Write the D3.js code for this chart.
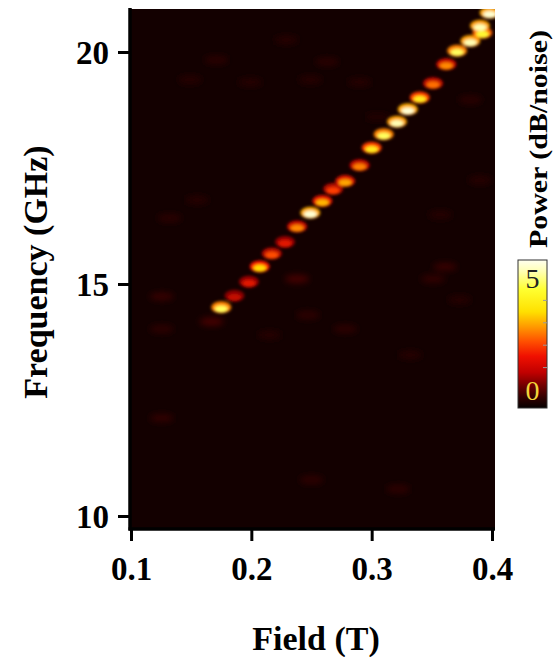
<!DOCTYPE html>
<html><head><meta charset="utf-8">
<script src="https://cdn.jsdelivr.net/npm/d3@7/dist/d3.min.js"></script>
<style>
html,body{margin:0;padding:0;background:#fff;}
svg{display:block;}
</style></head>
<body>
<svg id="chart" width="555" height="657"></svg>
<script>
// ---- data ----
const resField = [0.175,0.186,0.198,0.207,0.217,0.228,0.238,0.249,0.259,0.268,0.278,0.290,0.300,0.310,0.321,0.330,0.340,0.351,0.362,0.371,0.382,0.392,0.390,0.398];
const resFreq  = [14.48,14.73,15.03,15.36,15.64,15.89,16.22,16.52,16.77,17.03,17.20,17.54,17.92,18.21,18.48,18.75,19.00,19.31,19.72,20.01,20.22,20.40,20.55,20.83];
const resPower = [4.8,1.4,1.7,3.6,2.3,1.7,2.7,5.6,3.2,2.2,3.0,2.6,4.0,4.8,5.4,5.6,4.0,2.5,2.7,4.8,5.4,4.4,5.4,5.6];

const noiseField = [0.1255,0.1255,0.167,0.238,0.247,0.278,0.351,0.361,0.1255,0.250,0.322,0.132,0.155,0.171,0.263,0.229,0.149,0.199,0.249,0.290,0.382,0.390,0.357,0.373,0.332,0.215,0.305];
const noiseFreq  = [14.73,14.03,14.19,15.11,14.33,14.03,15.11,15.37,12.11,10.78,10.58,16.42,16.81,19.83,19.79,20.26,19.40,19.35,19.40,19.35,18.97,17.24,16.49,14.66,13.47,13.90,18.60];
const noisePower = [0.25,0.18,0.35,0.35,0.18,0.18,0.2,0.25,0.2,0.18,0.18,0.15,0.12,0.15,0.15,0.12,0.12,0.12,0.12,0.12,0.15,0.12,0.12,0.12,0.12,0.12,0.1];

const xTicks = [0.1,0.2,0.3,0.4];
const yTicks = [10,15,20];
const cbTicks = [0,5];
const cbTickColors = ["#f2d43a","#222222"];

// colour map for the heat map (value -> colour)
const cmapDomain = [0,0.8,2.0,2.6,3.6,4.6,5.8];
const cmapRange  = ["#130000","#8a0000","#ff1a00","#ff8000","#ffdc00","#ffff40","#fffff0"];
// colour bar stops (offset from bottom -> colour)
const cbOffsets = [0,0.07,0.15,0.24,0.35,0.45,0.55,0.65,0.8,0.92,1];
const cbColors  = ["#050000","#300000","#700000","#c00000","#f01000","#ff5000","#ff9a00","#ffe000","#ffff30","#ffffb0","#fffff0"];

// ---- drawing ----
const svg = d3.select("#chart");
const L=130, R=495, T=9, B=529;
const x = d3.scaleLinear().domain([0.1,0.4]).range([131,492]);
const y = d3.scaleLinear().domain([10,20]).range([516,52]);
const color = d3.scaleLinear().domain(cmapDomain).range(cmapRange).clamp(true);

const defs = svg.append("defs");
defs.append("clipPath").attr("id","plotclip").append("rect")
  .attr("x",L).attr("y",T).attr("width",R-L).attr("height",B-T);
const f1 = defs.append("filter").attr("id","blur").attr("x","-50%").attr("y","-50%").attr("width","200%").attr("height","200%");
f1.append("feGaussianBlur").attr("stdDeviation",1.8);
const f2 = defs.append("filter").attr("id","blur2").attr("x","-50%").attr("y","-50%").attr("width","200%").attr("height","200%");
f2.append("feGaussianBlur").attr("stdDeviation",3);

const plot = svg.append("g").attr("clip-path","url(#plotclip)");
plot.append("rect").attr("x",L).attr("y",T).attr("width",R-L).attr("height",B-T).attr("fill",color(0));

const noise = noiseField.map((f,i)=>({f, v:noiseFreq[i], p:noisePower[i]}));
plot.append("g").attr("filter","url(#blur2)").selectAll("ellipse").data(noise).join("ellipse")
  .attr("cx",d=>x(d.f)).attr("cy",d=>y(d.v)).attr("rx",12).attr("ry",4)
  .attr("fill",d=>color(d.p));

const res = resField.map((f,i)=>({f, v:resFreq[i], p:resPower[i]}));
const g = plot.append("g").attr("filter","url(#blur)");
g.selectAll("ellipse.o").data(res).join("ellipse").attr("class","o")
  .attr("cx",d=>x(d.f)).attr("cy",d=>y(d.v)-0.8).attr("rx",10).attr("ry",6)
  .attr("fill",d=>color(d.p*0.55));
g.selectAll("ellipse.i").data(res).join("ellipse").attr("class","i")
  .attr("cx",d=>x(d.f)).attr("cy",d=>y(d.v)+0.8).attr("rx",6.5).attr("ry",3.4)
  .attr("fill",d=>color(d.p));

// axes
const font = "'Liberation Serif','Times New Roman',serif";
const xAxis = svg.append("g").attr("transform",`translate(0,${B})`)
  .call(d3.axisBottom(x).tickValues(xTicks).tickFormat(d3.format(".1f")).tickSize(12).tickPadding(16));
const yAxis = svg.append("g").attr("transform",`translate(${L},0)`)
  .call(d3.axisLeft(y).tickValues(yTicks).tickFormat(d3.format("d")).tickSize(12).tickPadding(9));
[xAxis,yAxis].forEach(a=>{
  a.select(".domain").remove();
  a.selectAll(".tick line").attr("stroke","#000").attr("stroke-width",3);
  a.selectAll(".tick text").attr("fill","#000").style("font-family",font).style("font-weight","bold").style("font-size","33px");
});
xAxis.selectAll(".tick text").attr("dy","0.71em");
yAxis.selectAll(".tick text").attr("dy","0.36em");
// frame lines
svg.append("line").attr("x1",L).attr("x2",L).attr("y1",T-1).attr("y2",B+1.5).attr("stroke","#000").attr("stroke-width",3.5);
svg.append("line").attr("x1",L-1.5).attr("x2",R).attr("y1",B).attr("y2",B).attr("stroke","#000").attr("stroke-width",3.5);

// axis titles
svg.append("text").attr("x",316).attr("y",650).attr("text-anchor","middle")
  .style("font-family",font).style("font-weight","bold").style("font-size","34px").text("Field (T)");
svg.append("text").attr("transform","translate(47,272) rotate(-90)").attr("text-anchor","middle")
  .style("font-family",font).style("font-weight","bold").style("font-size","34px").text("Frequency (GHz)");

// colour bar
const cbX=518, cbW=29, cbTop=260, cbBot=408;
const cbScale = d3.scaleLinear().domain([0,5]).range([390,278]);
const grad = defs.append("linearGradient").attr("id","cbgrad").attr("x1",0).attr("x2",0).attr("y1",1).attr("y2",0);
cbOffsets.forEach((t,i)=>{
  grad.append("stop").attr("offset",t).attr("stop-color",cbColors[i]);
});
svg.append("rect").attr("x",cbX).attr("y",cbTop).attr("width",cbW).attr("height",cbBot-cbTop)
  .attr("fill","url(#cbgrad)").attr("stroke","#333").attr("stroke-width",1);
svg.append("g").selectAll("line").data([1,2,3,4]).join("line")
  .attr("x1",cbX+cbW-4).attr("x2",cbX+cbW).attr("y1",d=>cbScale(d)).attr("y2",d=>cbScale(d))
  .attr("stroke","#999").attr("stroke-width",1);
svg.append("g").selectAll("text").data(cbTicks).join("text")
  .attr("x",cbX+cbW/2).attr("y",d=>cbScale(d)).attr("dy","0.35em").attr("text-anchor","middle")
  .attr("fill",(d,i)=>cbTickColors[i])
  .style("font-family",font).style("font-size","28px").text(d=>d);
svg.append("text").attr("transform","translate(547,139) rotate(-90)").attr("text-anchor","middle")
  .attr("textLength",218).attr("lengthAdjust","spacingAndGlyphs")
  .style("font-family",font).style("font-weight","bold").style("font-size","25px").text("Power (dB/noise)");
</script>
</body></html>
